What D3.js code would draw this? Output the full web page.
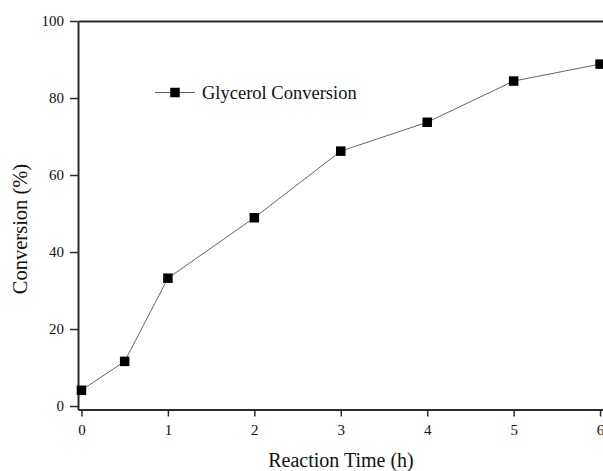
<!DOCTYPE html>
<html>
<head>
<meta charset="utf-8">
<script src="https://cdn.jsdelivr.net/npm/d3@7"></script>
<style>
	body { margin: 0; background: #fff; }
	svg { display: block; }
	text { font-family: "Liberation Serif", "Times New Roman", serif; }
</style>
</head>
<body>
<svg width="603" height="471"></svg>
<script>
const times = [0, 0.5, 1, 2, 3, 4, 5, 6];
const conversion = [4.1, 11.6, 33.2, 48.9, 66.2, 73.7, 84.4, 88.8];
const xTicks = [0, 1, 2, 3, 4, 5, 6];
const yTicks = [0, 20, 40, 60, 80, 100];
const seriesName = 'Glycerol Conversion';

const svg = d3.select('svg');
const plotLeft = 78, plotRight = 626, plotTop = 21, plotBottom = 409.5;

const x = d3.scaleLinear().domain([-0.04, 6.3]).range([plotLeft, plotRight]);
const y = d3.scaleLinear().domain([-0.9, 100]).range([plotBottom, plotTop]);

const axisColour = '#2a2a2a';
const serif = '"Liberation Serif", "Times New Roman", serif';

// bottom axis
const xAxis = svg.append('g')
	.attr('transform', `translate(0,${plotBottom})`)
	.call(d3.axisBottom(x).tickValues(xTicks).tickFormat(d3.format('d'))
		.tickSize(7).tickSizeOuter(0).tickPadding(8));

// left axis
const yAxis = svg.append('g')
	.attr('transform', `translate(${plotLeft},0)`)
	.call(d3.axisLeft(y).tickValues(yTicks).tickFormat(d3.format('d'))
		.tickSize(8).tickSizeOuter(0).tickPadding(6));

// top frame line, no ticks
const topAxis = svg.append('g')
	.attr('transform', `translate(0,${plotTop})`)
	.call(d3.axisTop(x).tickValues([]).tickSizeOuter(0));

[xAxis, yAxis, topAxis].forEach(g => {
	g.attr('font-family', serif);
	g.select('.domain').attr('stroke', axisColour).attr('stroke-width', 2);
	g.selectAll('.tick line').attr('stroke', axisColour).attr('stroke-width', 1.5);
	g.selectAll('.tick text')
		.attr('fill', '#111')
		.attr('font-size', 15);
});

const data = times.map((t, i) => ({ t, v: conversion[i] }));

svg.append('path')
	.datum(data)
	.attr('fill', 'none')
	.attr('stroke', '#666')
	.attr('stroke-width', 1)
	.attr('d', d3.line().x(d => x(d.t)).y(d => y(d.v)));

const size = 9.5;
svg.append('g')
	.selectAll('rect')
	.data(data)
	.enter()
	.append('rect')
	.attr('x', d => x(d.t) - size / 2)
	.attr('y', d => y(d.v) - size / 2)
	.attr('width', size)
	.attr('height', size)
	.attr('fill', '#000');

// legend
const legend = svg.append('g').attr('transform', 'translate(155,92.5)');
legend.append('line')
	.attr('x1', 0).attr('x2', 40)
	.attr('stroke', '#666').attr('stroke-width', 1);
legend.append('rect')
	.attr('x', 20 - size / 2).attr('y', -size / 2)
	.attr('width', size).attr('height', size)
	.attr('fill', '#000');
legend.append('text')
	.attr('x', 47).attr('y', 6)
	.attr('font-size', 18.5)
	.attr('fill', '#111')
	.text(seriesName);

// axis titles
svg.append('text')
	.attr('x', 341).attr('y', 467)
	.attr('text-anchor', 'middle')
	.attr('font-size', 20)
	.attr('fill', '#111')
	.text('Reaction Time (h)');

svg.append('text')
	.attr('transform', 'translate(27,229) rotate(-90)')
	.attr('text-anchor', 'middle')
	.attr('font-size', 20.5)
	.attr('fill', '#111')
	.text('Conversion (%)');
</script>
</body>
</html>
